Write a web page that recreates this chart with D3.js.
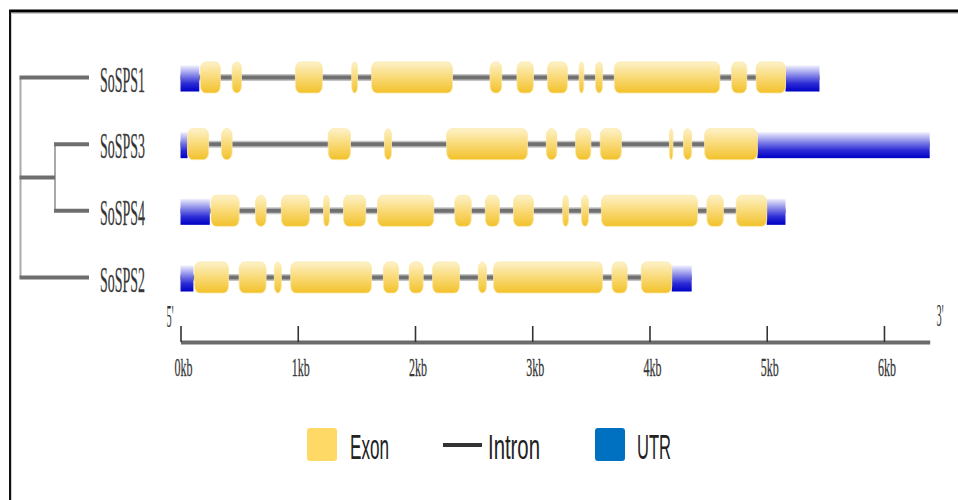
<!DOCTYPE html>
<html>
<head>
<meta charset="utf-8">
<script src="https://cdn.jsdelivr.net/npm/d3@7/dist/d3.min.js"></script>
<style>
  html, body { margin: 0; padding: 0; background: #fff; }
  svg { display: block; }
</style>
</head>
<body>
<svg id="chart" width="958" height="500"></svg>
<script>
// Gene order (top to bottom) and gene-structure data, positions in kb from the 5' end
const genes = ["SoSPS1", "SoSPS3", "SoSPS4", "SoSPS2"];

const sps1Exons = [[0.17,0.34],[0.44,0.52],[0.98,1.21],[1.46,1.51],[1.63,2.32],[2.64,2.74],[2.87,3.01],[3.13,3.30],[3.40,3.44],[3.54,3.60],[3.70,4.60],[4.70,4.83],[4.91,5.16]];
const sps1Utrs  = [[0,0.16],[5.16,5.45]];

const sps3Exons = [[0.06,0.24],[0.35,0.44],[1.26,1.45],[1.74,1.80],[2.27,2.96],[3.12,3.21],[3.37,3.50],[3.58,3.76],[4.17,4.20],[4.29,4.36],[4.47,4.92]];
const sps3Utrs  = [[0,0.06],[4.92,6.39]];

const sps4Exons = [[0.26,0.50],[0.64,0.73],[0.86,1.10],[1.22,1.27],[1.39,1.58],[1.68,2.16],[2.34,2.48],[2.60,2.72],[2.84,3.01],[3.26,3.31],[3.42,3.48],[3.59,4.41],[4.49,4.63],[4.74,5.00]];
const sps4Utrs  = [[0,0.25],[5.00,5.16]];

const sps2Exons = [[0.12,0.41],[0.50,0.73],[0.80,0.86],[0.94,1.63],[1.73,1.86],[1.95,2.07],[2.15,2.38],[2.54,2.61],[2.67,3.60],[3.68,3.81],[3.93,4.19]];
const sps2Utrs  = [[0,0.11],[4.19,4.36]];

// Scale bar
const tickValues = [0, 1, 2, 3, 4, 5, 6];
const tickLabels = ["0kb", "1kb", "2kb", "3kb", "4kb", "5kb", "6kb"];
const axisEnd = 6.39;

// Legend
const legendLabels = ["Exon", "Intron", "UTR"];

// Phylogenetic tree topology
const treeData = {
  name: "root",
  children: [
    { name: "SoSPS1" },
    { name: "clade", children: [{ name: "SoSPS3" }, { name: "SoSPS4" }] },
    { name: "SoSPS2" }
  ]
};

// ---------------------------------------------------------------
const geneTable = [
  { name: "SoSPS1", exons: sps1Exons, utrs: sps1Utrs },
  { name: "SoSPS3", exons: sps3Exons, utrs: sps3Utrs },
  { name: "SoSPS4", exons: sps4Exons, utrs: sps4Utrs },
  { name: "SoSPS2", exons: sps2Exons, utrs: sps2Utrs }
];

const svg = d3.select("#chart");

const x = d3.scaleLinear().domain([0, axisEnd]).range([180.5, 929.7]);
const y = d3.scalePoint().domain(genes).range([77.5, 277.5]);

// Draw a condensed text: horizontally squeeze it to a target width.
// anchor: 0 = start at px, 0.5 = centred on px
function condensed(parent, str, px, py, width, anchor, attrs) {
  const t = parent.append("text").text(str);
  Object.entries(attrs).forEach(([k, v]) => t.attr(k, v));
  const w = t.node().getComputedTextLength() || width;
  const sx = width / w;
  t.attr("transform", `translate(${px - anchor * width},${py}) scale(${sx},1)`);
  return t;
}

// gradients
const defs = svg.append("defs");
const exonGrad = defs.append("linearGradient").attr("id", "exonGrad")
  .attr("x1", 0).attr("y1", 0).attr("x2", 0).attr("y2", 1);
exonGrad.append("stop").attr("offset", "0%").attr("stop-color", "#fdf2c8");
exonGrad.append("stop").attr("offset", "45%").attr("stop-color", "#fadc7e");
exonGrad.append("stop").attr("offset", "100%").attr("stop-color", "#f2c12a");

const utrGrad = defs.append("linearGradient").attr("id", "utrGrad")
  .attr("x1", 0).attr("y1", 0).attr("x2", 0).attr("y2", 1);
utrGrad.append("stop").attr("offset", "0%").attr("stop-color", "#f0f0ff");
utrGrad.append("stop").attr("offset", "30%").attr("stop-color", "#9a9aec");
utrGrad.append("stop").attr("offset", "70%").attr("stop-color", "#2a2ad6");
utrGrad.append("stop").attr("offset", "100%").attr("stop-color", "#0000c4");

// frame
svg.append("line").attr("x1", 9).attr("x2", 958).attr("y1", 11).attr("y2", 11)
  .attr("stroke", "#000").attr("stroke-width", 3);
svg.append("line").attr("x1", 9).attr("x2", 958).attr("y1", 13.5).attr("y2", 13.5)
  .attr("stroke", "#c8c8c8").attr("stroke-width", 1);
svg.append("line").attr("x1", 10).attr("x2", 10).attr("y1", 10).attr("y2", 500)
  .attr("stroke", "#111").attr("stroke-width", 2);
svg.append("line").attr("x1", 11.5).attr("x2", 11.5).attr("y1", 13).attr("y2", 500)
  .attr("stroke", "#cfcfcf").attr("stroke-width", 1);

// ---------------- tree ----------------
const root = d3.hierarchy(treeData);
const depthX = d3.scaleOrdinal().domain([0, 1]).range([20.5, 55]);
const leafX = 89;
root.eachAfter(n => {
  if (!n.children) { n.py = y(n.data.name); n.px = leafX; }
  else {
    n.py = d3.mean([n.children[0].py, n.children[n.children.length - 1].py]);
    n.px = depthX(n.depth);
  }
});

const treeG = svg.append("g");
// vertical connectors
root.descendants().filter(n => n.children).forEach(n => {
  const ys = n.children.map(c => c.py);
  treeG.append("line")
    .attr("x1", n.px).attr("x2", n.px)
    .attr("y1", d3.min(ys)).attr("y2", d3.max(ys))
    .attr("stroke", "#a9a9a9").attr("stroke-width", 2);
});
// horizontal branches
root.descendants().filter(n => n.parent).forEach(n => {
  treeG.append("line")
    .attr("x1", n.parent.px - 1).attr("x2", n.px)
    .attr("y1", n.py).attr("y2", n.py)
    .attr("stroke", "#6e6e6e").attr("stroke-width", 4);
});

// gene labels
const labelG = svg.append("g");
genes.forEach(g => condensed(labelG, g, 100, y(g) + 14, 45, 0, {
  "font-family": "Liberation Serif, serif",
  "font-size": 35,
  "fill": "#333",
  "stroke": "#555",
  "stroke-width": 0.3
}));

// ---------------- gene structures ----------------
const exonH = 31;
const geneG = svg.append("g").selectAll("g").data(geneTable).join("g")
  .attr("transform", d => `translate(0,${y(d.name)})`);

// introns: backbone across the whole gene
geneG.append("line")
  .attr("x1", d => x(d3.min(d.utrs, u => u[0])))
  .attr("x2", d => x(d3.max(d.utrs, u => u[1])))
  .attr("stroke", "#c4c4c4").attr("stroke-width", 7);
geneG.append("line")
  .attr("x1", d => x(d3.min(d.utrs, u => u[0])))
  .attr("x2", d => x(d3.max(d.utrs, u => u[1])))
  .attr("stroke", "#707070").attr("stroke-width", 4);

// UTRs
geneG.selectAll("rect.utr").data(d => d.utrs).join("rect")
  .attr("class", "utr")
  .attr("x", d => x(d[0]))
  .attr("width", d => x(d[1]) - x(d[0]))
  .attr("y", -12).attr("height", 26)
  .attr("fill", "url(#utrGrad)");

// exons
geneG.selectAll("rect.exon").data(d => d.exons).join("rect")
  .attr("class", "exon")
  .attr("x", d => x(d[0]))
  .attr("width", d => x(d[1]) - x(d[0]))
  .attr("y", -exonH / 2).attr("height", exonH)
  .attr("rx", d => Math.min(5, (x(d[1]) - x(d[0])) / 2))
  .attr("ry", 7)
  .attr("fill", "url(#exonGrad)")
  .attr("stroke", "#fbe7a4").attr("stroke-width", 0.8);

// ---------------- scale bar ----------------
const axisY = 342;
const axis = d3.axisBottom(x)
  .tickValues(tickValues)
  .tickFormat(() => "")
  .tickSizeInner(-16)
  .tickSizeOuter(0);

const axisG = svg.append("g").attr("transform", `translate(0,${axisY})`).call(axis);
axisG.select(".domain").attr("stroke", "#6a6a6a").attr("stroke-width", 4);
axisG.selectAll(".tick line").attr("stroke", "#333").attr("stroke-width", 1.6)
  .attr("y2", -16);
axisG.selectAll(".tick text").remove();

// tick labels, condensed, below the bar
const tickLabelG = svg.append("g");
tickValues.forEach((v, i) => condensed(tickLabelG, tickLabels[i], x(v) + 3, axisY + 34, 18, 0.5, {
  "font-family": "Liberation Serif, serif",
  "font-size": 26,
  "fill": "#333",
  "stroke": "#444",
  "stroke-width": 0.3
}));

condensed(svg, "5'", 170, 327, 7, 0.5, {
  "font-family": "Liberation Serif, serif", "font-size": 32, "fill": "#333"
});
condensed(svg, "3'", 940, 326, 7, 0.5, {
  "font-family": "Liberation Serif, serif", "font-size": 32, "fill": "#333"
});

// ---------------- legend ----------------
const legendX = d3.scaleOrdinal().domain(legendLabels).range([307, 443, 595]);
const legendTextX = d3.scaleOrdinal().domain(legendLabels).range([350, 488, 637]);
const legendTextW = d3.scaleOrdinal().domain(legendLabels).range([39, 52, 34]);
const legendG = svg.append("g");

legendG.append("rect").attr("x", legendX("Exon")).attr("y", 428)
  .attr("width", 30).attr("height", 33).attr("rx", 3).attr("fill", "#ffd966");
legendG.append("line").attr("x1", legendX("Intron")).attr("x2", legendX("Intron") + 39)
  .attr("y1", 445).attr("y2", 445).attr("stroke", "#333").attr("stroke-width", 4);
legendG.append("rect").attr("x", legendX("UTR")).attr("y", 428)
  .attr("width", 30).attr("height", 33).attr("rx", 3).attr("fill", "#0070c0");

legendLabels.forEach(l => condensed(legendG, l, legendTextX(l), 459, legendTextW(l), 0, {
  "font-family": "Liberation Sans, Arial, sans-serif",
  "font-size": 35,
  "fill": "#222"
}));
</script>
</body>
</html>
